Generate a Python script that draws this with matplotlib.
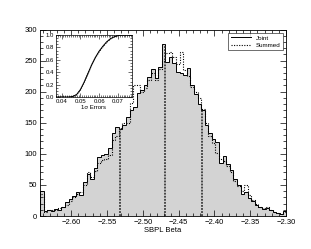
import numpy as np
import matplotlib
matplotlib.use("Agg")
import matplotlib.pyplot as plt
from matplotlib.ticker import MultipleLocator

plt.rcParams['font.family'] = ['Liberation Sans', 'DejaVu Sans']

# histogram of SBPL beta (bin width 0.005, starting at the left axis edge)
bin_start = -2.6435
bin_width = 0.005
joint = [40, 8, 10, 8, 12, 10, 15, 22, 27, 32, 38, 34, 55, 68, 60, 78, 95, 98, 100, 110,
         134, 143, 140, 147, 160, 170, 176, 198, 203, 211, 224, 236, 222, 240, 277, 248, 256, 246, 232, 230,
         227, 238, 210, 196, 180, 170, 146, 133, 124, 119, 85, 96, 84, 74, 60, 50, 36, 38, 29, 24,
         18, 14, 11, 13, 9, 6, 5, 4, 8]
summed = [36, 6, 9, 10, 10, 13, 14, 18, 24, 30, 35, 38, 50, 70, 62, 72, 86, 90, 92, 98,
          122, 128, 142, 150, 150, 182, 211, 211, 200, 206, 218, 230, 219, 236, 250, 262, 264, 255, 245, 264,
          235, 225, 207, 200, 190, 172, 150, 128, 118, 101, 92, 88, 80, 70, 56, 48, 40, 50, 34, 26,
          20, 15, 13, 14, 10, 7, 5, 4, 6]
# median and 1-sigma bounds
vlines = [-2.5315, -2.4685, -2.4168]

# inset: cumulative distribution of 1 sigma errors
err_x = [0.037, 0.044, 0.046, 0.048, 0.050, 0.052, 0.054, 0.056, 0.058, 0.060,
         0.062, 0.064, 0.066, 0.068, 0.070, 0.072, 0.0775]
cdf_joint = [0.0, 0.0, 0.01, 0.04, 0.12, 0.24, 0.38, 0.52, 0.64, 0.74,
             0.82, 0.89, 0.94, 0.97, 0.99, 1.0, 1.0]
cdf_summed = [0.0, 0.0, 0.01, 0.035, 0.11, 0.23, 0.37, 0.51, 0.63, 0.73,
              0.81, 0.88, 0.935, 0.97, 0.99, 1.0, 1.0]

edges = bin_start + bin_width * np.arange(len(joint) + 1)

fig = plt.figure(figsize=(3.11, 2.49), dpi=100)
ax = fig.add_axes([0.1286, 0.1325, 0.791, 0.749])

ax.stairs(joint, edges, fill=True, color='#d3d3d3', lw=0)
ax.stairs(joint, edges, color='black', lw=0.7, label='Joint')
ax.stairs(summed, edges, color='black', lw=0.8, linestyle=(0, (1, 1.3)), label='Summed')
# marker lines run from zero up to the histogram
idx = np.searchsorted(edges, vlines) - 1
tops = [max(joint[i], summed[i]) for i in idx]
ax.vlines(vlines, 0, tops, color='#222222', lw=1.1, linestyle=(0, (1.2, 0.8)))

ax.set_xlim(-2.6435, -2.30)
ax.set_ylim(0, 300)
ax.xaxis.set_major_locator(MultipleLocator(0.05))
ax.xaxis.set_minor_locator(MultipleLocator(0.01))
ax.yaxis.set_major_locator(MultipleLocator(50))
ax.yaxis.set_minor_locator(MultipleLocator(10))
ax.tick_params(which='both', direction='in', top=True, right=True, labelsize=5.5, width=0.5, pad=2)
ax.tick_params(which='major', length=4)
ax.tick_params(which='minor', length=2)
for s in ax.spines.values():
    s.set_linewidth(0.6)
ax.set_xlabel('SBPL Beta', fontsize=5.5, labelpad=1)
leg = ax.legend(loc='upper right', fontsize=4.5, frameon=True, fancybox=False,
                edgecolor='black', handlelength=3.2, borderpad=0.4, labelspacing=0.3)
leg.get_frame().set_linewidth(0.5)

ins = fig.add_axes([0.18, 0.6104, 0.2444, 0.249])
ins.plot(err_x, cdf_joint, color='black', lw=0.7)
ins.plot(err_x, cdf_summed, color='black', lw=0.8, linestyle=(0, (1, 1)))
ins.set_xlim(0.037, 0.0775)
ins.set_ylim(0, 1.0)
ins.xaxis.set_major_locator(MultipleLocator(0.01))
ins.xaxis.set_minor_locator(MultipleLocator(0.001))
ins.yaxis.set_major_locator(MultipleLocator(0.2))
ins.yaxis.set_minor_locator(MultipleLocator(0.05))
ins.tick_params(which='both', direction='in', top=True, right=True, labelsize=4.3, width=0.4, pad=1.5)
ins.tick_params(which='major', length=3)
ins.tick_params(which='minor', length=1.5)
for s in ins.spines.values():
    s.set_linewidth(0.5)
ins.set_xlabel('1\u03c3 Errors', fontsize=4.3, labelpad=0.5)

fig.savefig('out.png', dpi=100)
